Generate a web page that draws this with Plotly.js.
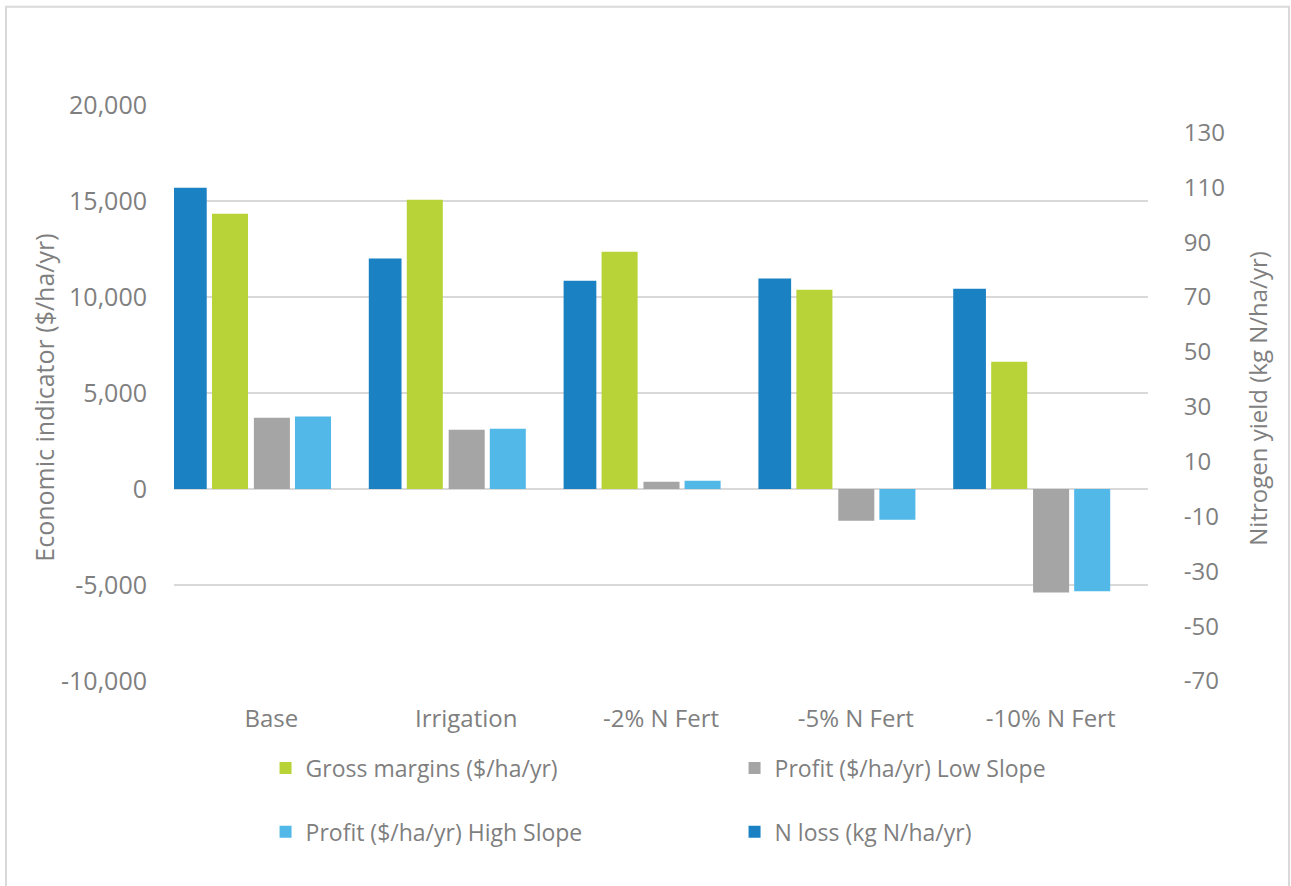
<!DOCTYPE html>
<html>
<head>
<meta charset="utf-8">
<script src="https://cdn.plot.ly/plotly-3.0.1.min.js"></script>
<style>
  html, body { margin: 0; padding: 0; background: #ffffff; }
  #chart { width: 1291px; height: 886px; }
</style>
</head>
<body>
<div id="chart"></div>
<script>
const categories = ["Base", "Irrigation", "-2% N Fert", "-5% N Fert", "-10% N Fert"];
const grossMargins = [14340, 15070, 12360, 10380, 6630];
const profitLowSlope = [3710, 3090, 380, -1650, -5390];
const profitHighSlope = [3770, 3140, 430, -1600, -5330];
const nLoss = [109.8, 84.0, 75.9, 76.7, 73.0];
const leftTicks = [-10000, -5000, 0, 5000, 10000, 15000, 20000];
const leftTickText = ["-10,000", "-5,000", "0", "5,000", "10,000", "15,000", "20,000"];
const rightTicks = [-70, -50, -30, -10, 10, 30, 50, 70, 90, 110, 130];
const rightTickText = ["-70", "-50", "-30", "-10", "10", "30", "50", "70", "90", "110", "130"];

const FONT = "Open Sans, Noto Sans, sans-serif";
const TXT = "#7f7f7f";

const traces = [
  { type: "bar", name: "Gross margins ($/ha/yr)", x: categories, y: grossMargins,
    marker: { color: "#b7d337" }, offset: -0.305, width: 0.185, legend: "legend" },
  { type: "bar", name: "Profit ($/ha/yr) Low Slope", x: categories, y: profitLowSlope,
    marker: { color: "#a5a5a5" }, offset: -0.09, width: 0.185, legend: "legend" },
  { type: "bar", name: "Profit ($/ha/yr) High Slope", x: categories, y: profitHighSlope,
    marker: { color: "#52b8e8" }, offset: 0.121, width: 0.185, legend: "legend2" },
  { type: "bar", name: "N loss (kg N/ha/yr)", x: categories, y: nLoss, yaxis: "y2",
    marker: { color: "#1a82c3" }, offset: -0.5, width: 0.168, legend: "legend2" }
];

const layout = {
  width: 1291, height: 886,
  margin: { l: 174, r: 143, t: 105, b: 205 },
  paper_bgcolor: "#ffffff", plot_bgcolor: "#ffffff",
  font: { family: FONT, size: 24, color: TXT },
  barmode: "overlay",
  showlegend: true,
  xaxis: {
    type: "category", range: [-0.5, 4.5], showgrid: false, zeroline: false,
    showline: false, ticks: "outside", ticklen: 16, tickcolor: "rgba(0,0,0,0)",
    tickfont: { family: FONT, size: 24, color: TXT }, fixedrange: true
  },
  yaxis: {
    range: [-10000, 20000], tickvals: leftTicks, ticktext: leftTickText,
    showgrid: true, gridcolor: "#d9d9d9", gridwidth: 1.5,
    zeroline: true, zerolinecolor: "#d9d9d9", zerolinewidth: 2,
    showline: false, ticks: "outside", ticklen: 21, tickcolor: "rgba(0,0,0,0)",
    tickfont: { family: FONT, size: 25, color: TXT }, fixedrange: true
  },
  yaxis2: {
    overlaying: "y", side: "right", range: [-70, 140],
    tickvals: rightTicks, ticktext: rightTickText,
    showgrid: false, zeroline: false, showline: false,
    ticks: "outside", ticklen: 30, tickcolor: "rgba(0,0,0,0)",
    tickfont: { family: FONT, size: 24, color: TXT }, fixedrange: true
  },
  legend: {
    orientation: "h", x: 0.094, xanchor: "left", y: -0.151, yanchor: "middle",
    entrywidth: 424, entrywidthmode: "pixels", traceorder: "normal",
    font: { family: FONT, size: 23, color: TXT }, bgcolor: "rgba(0,0,0,0)"
  },
  legend2: {
    orientation: "h", x: 0.094, xanchor: "left", y: -0.262, yanchor: "middle",
    entrywidth: 424, entrywidthmode: "pixels", traceorder: "normal",
    font: { family: FONT, size: 23, color: TXT }, bgcolor: "rgba(0,0,0,0)"
  },
  annotations: [
    { text: "Economic indicator ($/ha/yr)", xref: "paper", yref: "paper",
      x: (44 - 174) / 974, y: (681.3 - 398) / 576, xanchor: "center", yanchor: "middle",
      textangle: -90, showarrow: false, font: { family: FONT, size: 25, color: TXT } },
    { text: "Nitrogen yield (kg N/ha/yr)", xref: "paper", yref: "paper",
      x: (1258 - 174) / 974, y: (681.3 - 399) / 576, xanchor: "center", yanchor: "middle",
      textangle: -90, showarrow: false, font: { family: FONT, size: 24, color: TXT } }
  ],
  shapes: [
    { type: "rect", xref: "paper", yref: "paper",
      x0: (6 - 174) / 974, x1: (1289 - 174) / 974,
      y0: (681.3 - 895) / 576, y1: (681.3 - 7) / 576,
      line: { color: "#d9d9d9", width: 2 }, fillcolor: "rgba(0,0,0,0)", layer: "below" }
  ]
};

Plotly.newPlot("chart", traces, layout, { staticPlot: true, displayModeBar: false });
</script>
</body>
</html>
